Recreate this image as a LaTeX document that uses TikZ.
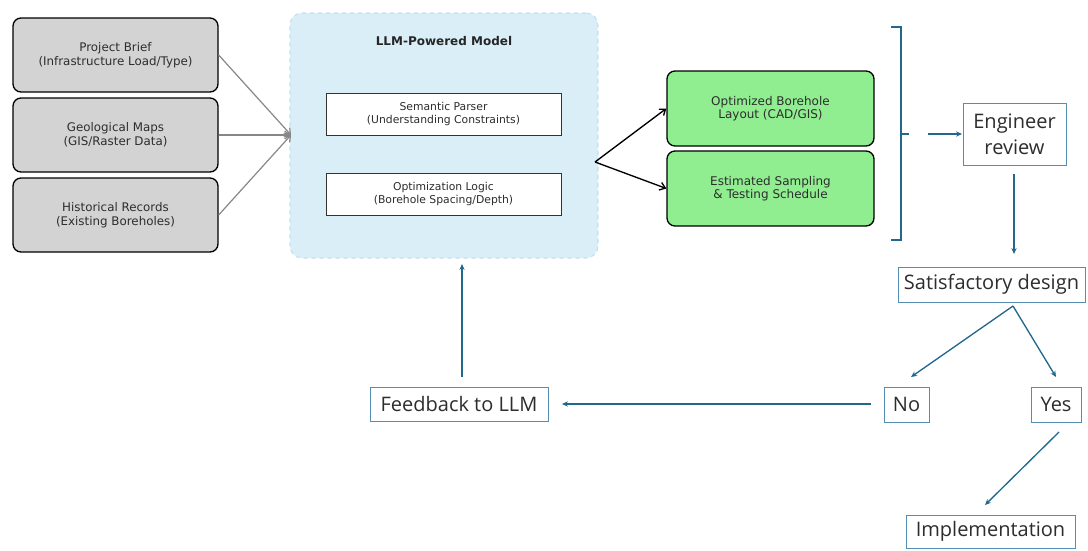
\documentclass[tikz,border=0pt]{standalone}
\usepackage{fontspec}
\setmainfont{DejaVu Sans}
\newfontfamily\flowfont{Open Sans}
\usetikzlibrary{arrows.meta}
\definecolor{inboxgray}{RGB}{211,211,211}
\definecolor{llmfill}{RGB}{218,238,247}
\definecolor{llmedge}{RGB}{190,224,240}
\definecolor{outgreen}{RGB}{144,238,144}
\definecolor{flowblue}{RGB}{34,104,140}
\definecolor{flowedge}{RGB}{84,142,176}
\definecolor{txtgray}{RGB}{45,45,45}
\definecolor{arrowgray}{RGB}{135,135,135}
\tikzset{
  inbox/.style={draw=black, line width=1pt, rounded corners=6pt, fill=inboxgray,
    minimum width=153.75pt, minimum height=55.5pt, align=center,
    font=\fontsize{8.9}{10.8}\selectfont, text=txtgray},
  llmbox/.style={draw=llmedge, dashed, line width=0.8pt, rounded corners=9pt, fill=llmfill,
    minimum width=231pt, minimum height=183.75pt},
  innerbox/.style={draw=black!80, line width=0.6pt, fill=white,
    minimum width=176.25pt, minimum height=31.5pt, align=center,
    font=\fontsize{8.1}{9.6}\selectfont, text=txtgray},
  outbox/.style={draw=black, line width=1pt, rounded corners=6pt, fill=outgreen,
    minimum width=155.25pt, minimum height=56.25pt, align=center,
    font=\fontsize{9}{10.2}\selectfont, text=txtgray},
  flowbox/.style={draw=flowedge, line width=0.6pt, fill=white, align=center,
    font=\flowfont\fontsize{15}{19.5}\selectfont, text=txtgray, inner sep=0pt},
  grayarrow/.style={draw=arrowgray, line width=0.9pt, -{Straight Barb[length=4pt,width=6pt]}},
  blackarrow/.style={draw=black, line width=1pt, -{Straight Barb[length=4pt,width=6pt]}},
  flowarrow/.style={draw=flowblue, line width=1pt, -{Stealth[length=4.5pt,width=4pt]}},
  bracketline/.style={draw=flowblue, line width=1.3pt}
}
\begin{document}
\begin{tikzpicture}[x=0.75pt,y=-0.75pt]
\useasboundingbox (0,0) rectangle (1088,550);

% inputs
\node[inbox] (brief) at (115.5,55) {Project Brief\\(Infrastructure Load/Type)};
\node[inbox] (maps) at (115.5,135) {Geological Maps\\(GIS/Raster Data)};
\node[inbox] (hist) at (115.5,215) {Historical Records\\(Existing Boreholes)};

% LLM container
\node[llmbox] (llm) at (444,135.5) {};
\node[font=\bfseries\fontsize{9}{10}\selectfont, text=black!85] (llmtitle) at (444,41) {LLM-Powered Model};
\node[innerbox] (parser) at (443.5,114) {Semantic Parser\\(Understanding Constraints)};
\node[innerbox] (optlogic) at (443.5,194) {Optimization Logic\\(Borehole Spacing/Depth)};

\coordinate (llmin) at (291,135);
\coordinate (llmout) at (595,162);

\draw[grayarrow] (brief.east) -- (llmin);
\draw[grayarrow] (maps.east) -- (llmin);
\draw[grayarrow] (hist.east) -- (llmin);

% outputs
\node[outbox] (layout) at (770.5,108.5) {Optimized Borehole\\Layout (CAD/GIS)};
\node[outbox] (sched) at (770.5,188.5) {Estimated Sampling\\\& Testing Schedule};

\draw[blackarrow] (llmout) -- (layout.west);
\draw[blackarrow] (llmout) -- (sched.west);

% bracket
\draw[bracketline] (891,27) -- (901,27) -- (901,240) -- (891,240);
\draw[bracketline] (901,134) -- (909,134);

% flow
\node[flowbox, minimum width=77.25pt, minimum height=46.5pt] (review) at (1014.5,134) {Engineer\\review};
\node[flowbox, minimum width=140.25pt, minimum height=26.25pt] (satis) at (991.5,284.5) {Satisfactory design};
\node[flowbox, minimum width=33.75pt, minimum height=26.25pt] (no) at (906.5,404.5) {No};
\node[flowbox, minimum width=37.5pt, minimum height=26.25pt] (yes) at (1056,404.5) {Yes};
\node[flowbox, minimum width=133.5pt, minimum height=25.5pt] (feedback) at (459,404) {Feedback to LLM};
\node[flowbox, minimum width=126.75pt, minimum height=24.75pt] (impl) at (990.5,531.5) {Implementation};

\coordinate (bracketout) at (928,134);
\coordinate (reviewin) at (962,134);
\coordinate (reviewout) at (1014,174);
\coordinate (satisin) at (1014,254);
\coordinate (split) at (1013,306);
\coordinate (notop) at (911,377);
\coordinate (yestop) at (1056,377);
\coordinate (noout) at (871,404);
\coordinate (fbin) at (562,404);
\coordinate (fbout) at (462,377);
\coordinate (llmback) at (462,264);
\coordinate (yesout) at (1059,432);
\coordinate (implin) at (985,505);

\draw[flowarrow] (bracketout) -- (reviewin);
\draw[flowarrow] (reviewout) -- (satisin);
\draw[flowarrow] (split) -- (notop);
\draw[flowarrow] (split) -- (yestop);
\draw[flowarrow] (noout) -- (fbin);
\draw[flowarrow] (fbout) -- (llmback);
\draw[flowarrow] (yesout) -- (implin);
\end{tikzpicture}
\end{document}
